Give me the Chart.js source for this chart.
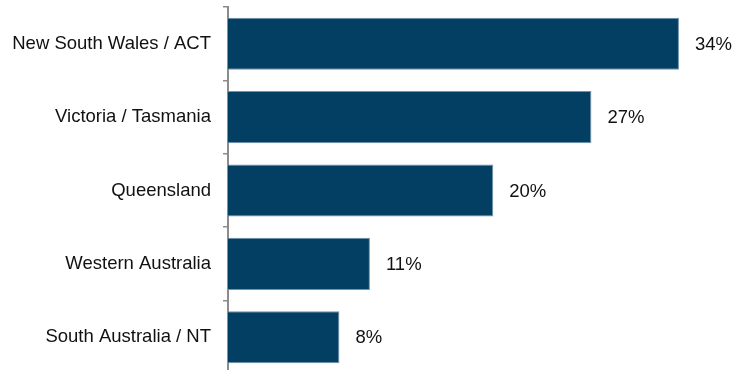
<!DOCTYPE html>
<html>
<head>
<meta charset="utf-8">
<script src="https://cdn.jsdelivr.net/npm/chart.js@4"></script>
<style>
  html, body { margin: 0; padding: 0; background: #fff; overflow: hidden; }
  #wrap { width: 736px; height: 374px; }
</style>
</head>
<body>
<div id="wrap"><canvas id="regionChart"></canvas></div>
<script>
const regions = ["New South Wales / ACT", "Victoria / Tasmania", "Queensland", "Western Australia", "South Australia / NT"];
const shares = [34, 27.4, 20, 10.7, 8.4];
const shareLabels = ["34%", "27%", "20%", "11%", "8%"];

const barLabels = {
    id: "barLabels",
    afterDatasetsDraw(chart) {
        const ctx = chart.ctx;
        ctx.save();
        ctx.font = "18.5px 'Liberation Sans', Arial, sans-serif";
        ctx.fillStyle = "#111";
        ctx.textAlign = "left";
        ctx.textBaseline = "middle";
        chart.getDatasetMeta(0).data.forEach((bar, i) => {
            ctx.fillText(shareLabels[i], bar.x + 16, bar.y + 1);
        });
        ctx.restore();
    }
};

new Chart(document.getElementById("regionChart"), {
    type: "bar",
    data: {
        labels: regions,
        datasets: [{
            data: shares,
            backgroundColor: "#033f63",
            borderColor: "#6f93ab",
            borderWidth: 1,
            barPercentage: 0.71,
            categoryPercentage: 1
        }]
    },
    options: {
        indexAxis: "y",
        responsive: true,
        maintainAspectRatio: false,
        animation: false,
        layout: { padding: { top: 7, left: 0, right: 0, bottom: 0 } },
        plugins: { legend: { display: false }, tooltip: { enabled: false } },
        scales: {
            x: { display: false, min: 0, max: 38.3 },
            y: {
                afterFit(scale) {
                    scale.width = 228;
                    scale.paddingTop = 0;
                    scale.paddingBottom = 0;
                },
                grid: {
                    offset: true,
                    drawOnChartArea: false,
                    tickLength: 5,
                    color: "#8c8c8c",
                    lineWidth: 1.5
                },
                border: { color: "#8c8c8c", width: 2 },
                ticks: {
                    padding: 12,
                    color: "#111",
                    font: { family: "'Liberation Sans', Arial, sans-serif", size: 18.5 }
                }
            }
        }
    },
    plugins: [barLabels]
});
</script>
</body>
</html>
